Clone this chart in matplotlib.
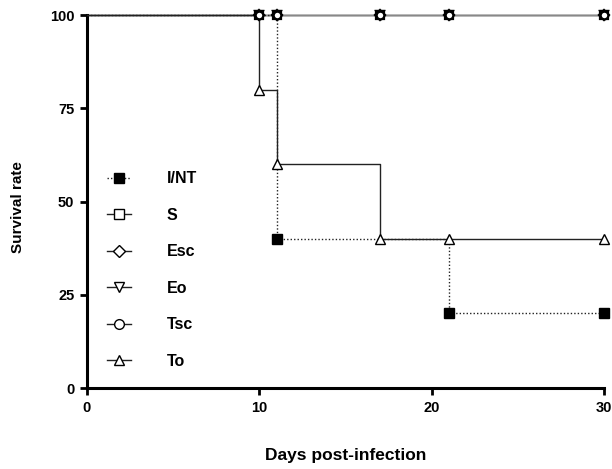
import matplotlib
matplotlib.use("Agg")
import matplotlib.pyplot as plt

plt.rcParams['font.family'] = ['Liberation Sans', 'DejaVu Sans']
plt.rcParams['font.weight'] = 'bold'

# Data (Kaplan-Meier step curves)
days_int = [0, 10, 11, 17, 21, 30]
surv_int = [100, 100, 40, 40, 20, 20]
mark_int_x = [11, 21, 30]
mark_int_y = [40, 20, 20]

days_full = [0, 10, 11, 17, 21, 30]
surv_full = [100, 100, 100, 100, 100, 100]
mark_full_x = [10, 11, 17, 21, 30]
mark_full_y = [100, 100, 100, 100, 100]

days_to = [0, 10, 11, 17, 21, 30]
surv_to = [100, 80, 60, 40, 40, 40]
mark_to_x = [10, 11, 17, 21, 30]
mark_to_y = [80, 60, 40, 40, 40]

labels = ['I/NT', 'S', 'Esc', 'Eo', 'Tsc', 'To']
full_markers = {'S': 's', 'Esc': 'D', 'Eo': 'v', 'Tsc': 'o'}
xticks = [0, 10, 20, 30]
yticks = [0, 25, 50, 75, 100]

fig = plt.figure(figsize=(6.12, 4.69), dpi=100)
ax = fig.add_axes([0.142, 0.1727, 0.845, 0.7953])

lc = '#222222'
handles = []
# I/NT
ax.step(days_int, surv_int, where='post', color=lc, lw=1.0, ls=(0, (1, 1.5)), clip_on=False, zorder=3)
ax.plot(mark_int_x, mark_int_y, ls='none', marker='s', ms=7, mfc='black', mec='black', clip_on=False, zorder=5)
h, = ax.plot([], [], color=lc, lw=1.0, ls=(0, (1, 1.5)), marker='s', ms=7, mfc='black', mec='black')
handles.append(h)

for lab in ['S', 'Esc', 'Eo', 'Tsc']:
    m = full_markers[lab]
    ax.step(days_full, surv_full, where='post', color='#888888', lw=1.0, clip_on=False, zorder=2)
    ax.plot(mark_full_x, mark_full_y, ls='none', marker=m, ms=5.5, mfc='white', mec='black', mew=1.6,
            clip_on=False, zorder=5)
    ms = 6 if m == 'D' else 7
    h, = ax.plot([], [], color=lc, lw=1.0, marker=m, ms=ms, mfc='white', mec='black', mew=1.0)
    handles.append(h)

# To
ax.step(days_to, surv_to, where='post', color=lc, lw=1.0, clip_on=False, zorder=3)
ax.plot(mark_to_x, mark_to_y, ls='none', marker='^', ms=7, mfc='white', mec='black', mew=1.0,
        clip_on=False, zorder=6)
h, = ax.plot([], [], color=lc, lw=1.0, marker='^', ms=7, mfc='white', mec='black', mew=1.0)
handles.append(h)

ax.set_xlim(0, 30)
ax.set_ylim(0, 100)
ax.set_xticks(xticks)
ax.set_yticks(yticks)
for s in ['top', 'right']:
    ax.spines[s].set_visible(False)
for s in ['left', 'bottom']:
    ax.spines[s].set_linewidth(2.2)
ax.tick_params(axis='both', width=2.0, length=5, labelsize=10.5, direction='out')
ax.tick_params(axis='x', pad=4)
ax.tick_params(axis='y', pad=4)
for t in ax.get_xticklabels() + ax.get_yticklabels():
    t.set_fontweight('bold')

ax.set_xlabel('Days post-infection', fontsize=12.5, fontweight='bold', labelpad=24)
ax.set_ylabel('Survival rate', fontsize=11, fontweight='bold')
ax.yaxis.set_label_coords(-0.12, 0.484)

leg = ax.legend(handles, labels, loc='upper left', bbox_to_anchor=(0.012, 0.619),
                frameon=False, labelspacing=1.34, handlelength=1.5,
                handletextpad=2.2, prop={'weight': 'bold', 'size': 11.5})

fig.savefig('out.png', dpi=100)
